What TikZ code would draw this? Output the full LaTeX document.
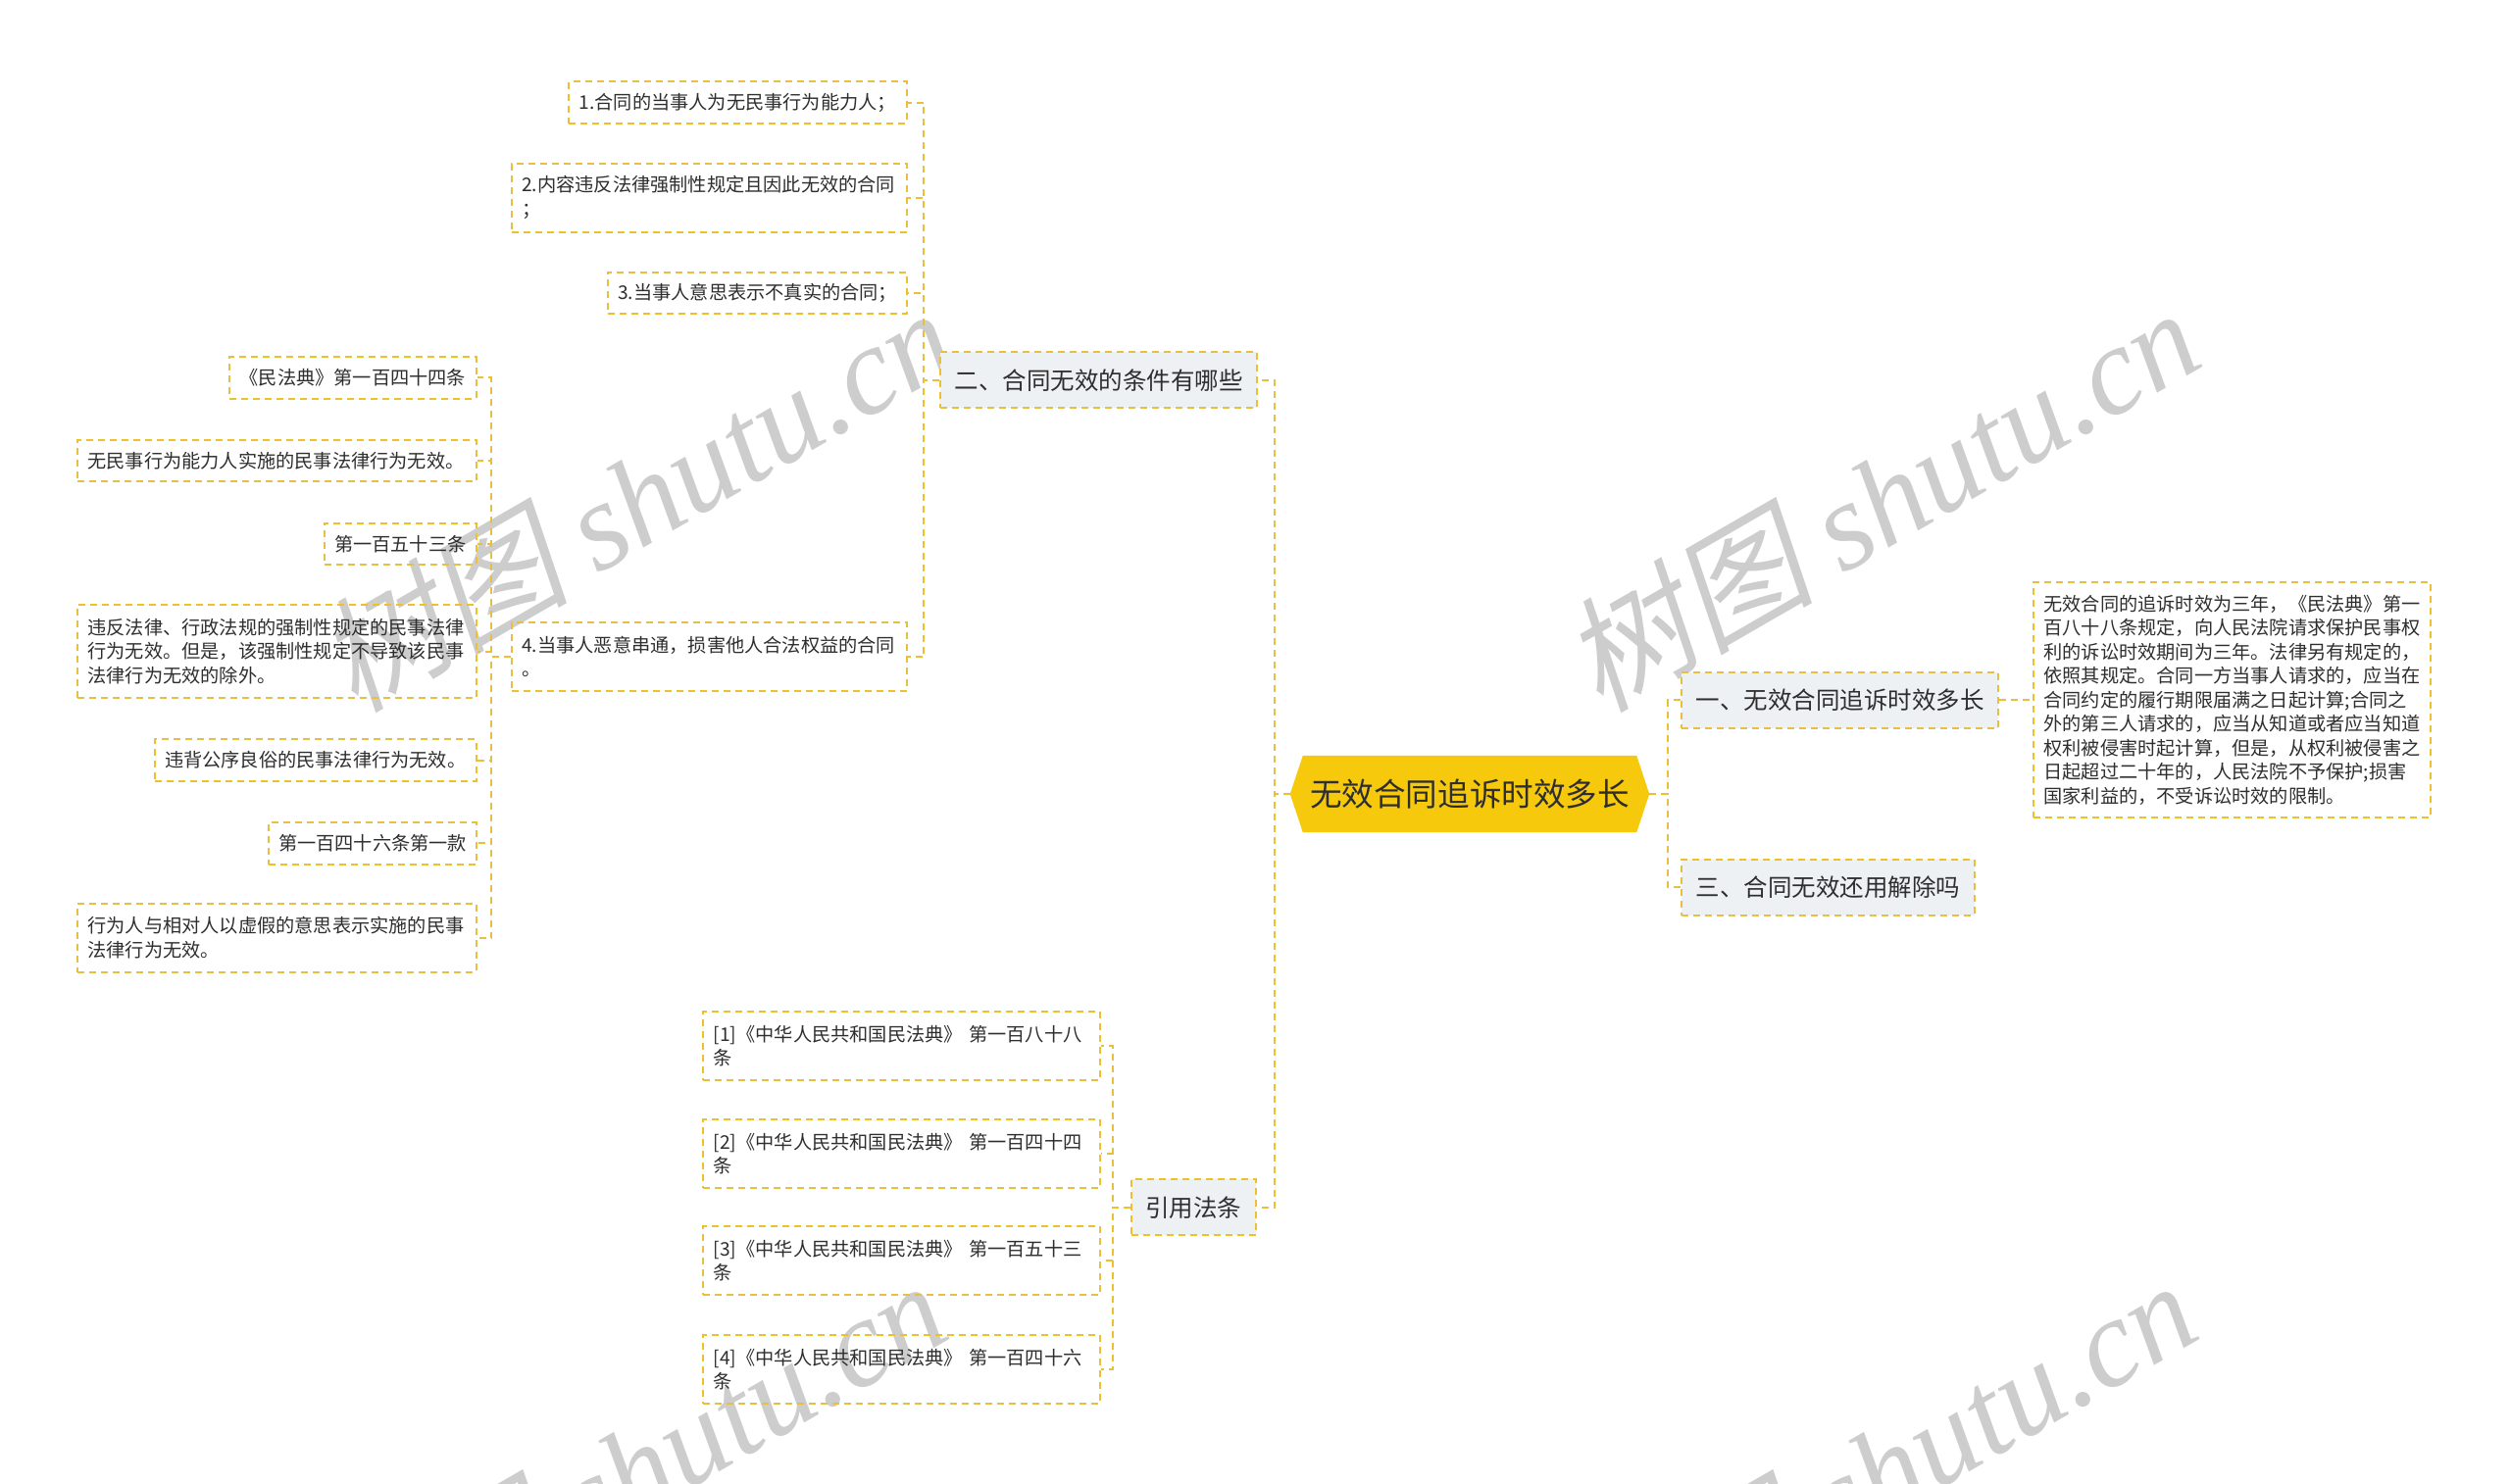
\documentclass[tikz,border=0pt]{standalone}
\usepackage{fontspec}
\setmainfont{Noto Sans CJK SC}
\newfontfamily\wmlat{Liberation Serif}
\newfontfamily\wmcjk[FakeSlant=0.2]{Noto Sans CJK SC}
\usetikzlibrary{backgrounds}
\definecolor{gold}{HTML}{EBC036}
\definecolor{rootfill}{HTML}{F6C90C}
\definecolor{topfill}{HTML}{EEF1F4}
\definecolor{txt}{HTML}{2E2E2E}
\definecolor{wmgray}{HTML}{CDCDCD}
\tikzset{
  conn/.style={draw=gold, line width=2pt, dash pattern=on 7pt off 5pt},
  leaf/.style={draw=gold, line width=2pt, dash pattern=on 7pt off 5pt, text=txt,
    font=\fontsize{19.2}{24.5}\selectfont, inner xsep=10.5pt, inner ysep=6pt,
    text width=#1, align=left, anchor=east, minimum height=42.5pt},
  topic/.style={draw=gold, line width=2pt, dash pattern=on 7pt off 5pt, fill=topfill,
    text=txt, font=\fontsize{24.5}{28}\selectfont, inner xsep=14.5pt, inner ysep=0pt,
    minimum height=57pt},
  rootnode/.style={text=txt, font=\fontsize{32.6}{36}\selectfont, inner sep=0pt,
    minimum width=366pt, minimum height=78pt},
  wmark/.style={text=wmgray, font=\fontsize{128}{132}\selectfont, rotate=30, inner sep=0pt}
}
\begin{document}
\begin{tikzpicture}[x=1pt,y=1pt]
\useasboundingbox (0,0) rectangle (2560,-1513);
\begin{scope}[on background layer]
  \fill[white] (0,0) rectangle (2560,-1513);
\end{scope}

% watermarks
\begin{scope}
  \clip (0,0) rectangle (2560,-1513);
  \node[wmark] (wm1) at (648,-508) {{\wmcjk 树图} {\wmlat\itshape shutu.cn}};
  \node[wmark] (wm2) at (1918,-508) {{\wmcjk 树图} {\wmlat\itshape shutu.cn}};
  \node[wmark] (wm3) at (640,-1500) {{\wmcjk 树图} {\wmlat\itshape shutu.cn}};
  \node[wmark] (wm4) at (1915,-1500) {{\wmcjk 树图} {\wmlat\itshape shutu.cn}};
\end{scope}

% root
\node[rootnode] (root) at (1499,-810) {无效合同追诉时效多长};
\begin{scope}[on background layer]
  \fill[rootfill] (root.west) -- ([xshift=13pt]root.north west) -- ([xshift=-13pt]root.north east)
    -- (root.east) -- ([xshift=-13pt]root.south east) -- ([xshift=13pt]root.south west) -- cycle;
\end{scope}

% right side
\node[topic, anchor=west] (A) at (1714,-714.3) {一、无效合同追诉时效多长};
\node[topic, anchor=west] (B) at (1714,-905.3) {三、合同无效还用解除吗};
\node[leaf=384pt, anchor=west, minimum height=240pt] (long) at (2073,-714.3) {无效合同的追诉时效为三年，《民法典》第一\\百八十八条规定，向人民法院请求保护民事权\\利的诉讼时效期间为三年。法律另有规定的，\\依照其规定。合同一方当事人请求的，应当在\\合同约定的履行期限届满之日起计算;合同之\\外的第三人请求的，应当从知道或者应当知道\\权利被侵害时起计算，但是，从权利被侵害之\\日起超过二十年的，人民法院不予保护;损害\\国家利益的，不受诉讼时效的限制。};

% left side topics
\node[topic, anchor=east] (C) at (1283.4,-387.8) {二、合同无效的条件有哪些};
\node[topic, anchor=east] (D) at (1281.7,-1231.9) {引用法条};

% C children
\node[leaf=323.5pt] (c1) at (925.7,-104.5) {1.合同的当事人为无民事行为能力人；};
\node[leaf=382pt, minimum height=70pt] (c2) at (925.7,-201.6) {2.内容违反法律强制性规定且因此无效的合同\\；};
\node[leaf=284pt] (c3) at (925.7,-298.8) {3.当事人意思表示不真实的合同；};
\node[leaf=382pt, minimum height=70pt] (c4) at (925.7,-670) {4.当事人恶意串通，损害他人合法权益的合同\\。};

% c4 children
\node[leaf=230.4pt] (d1) at (486.5,-385.3) {《民法典》第一百四十四条};
\node[leaf=385.5pt] (d2) at (486.5,-470.2) {无民事行为能力人实施的民事法律行为无效。};
\node[leaf=134pt] (d3) at (486.5,-555) {第一百五十三条};
\node[leaf=385.5pt, minimum height=95pt] (d4) at (486.5,-664.5) {违反法律、行政法规的强制性规定的民事法律\\行为无效。但是，该强制性规定不导致该民事\\法律行为无效的除外。};
\node[leaf=307pt] (d5) at (486.5,-775.5) {违背公序良俗的民事法律行为无效。};
\node[leaf=191pt] (d6) at (486.5,-860.4) {第一百四十六条第一款};
\node[leaf=385.5pt, minimum height=70pt] (d7) at (486.5,-956.8) {行为人与相对人以虚假的意思表示实施的民事\\法律行为无效。};

% D children
\node[leaf=384pt, minimum height=70pt] (e1) at (1123.3,-1067) {[1]《中华人民共和国民法典》 第一百八十八\\条};
\node[leaf=384pt, minimum height=70pt] (e2) at (1123.3,-1177) {[2]《中华人民共和国民法典》 第一百四十四\\条};
\node[leaf=384pt, minimum height=70pt] (e3) at (1123.3,-1286) {[3]《中华人民共和国民法典》 第一百五十三\\条};
\node[leaf=384pt, minimum height=70pt] (e4) at (1123.3,-1397) {[4]《中华人民共和国民法典》 第一百四十六\\条};

% connectors
\draw[conn] (root.east) -- ++(19,0) |- (A.west);
\draw[conn] (root.east) -- ++(19,0) |- (B.west);
\draw[conn] (A.east) -- (long.west);
\draw[conn] (root.west) -- ++(-16.3,0) |- (C.east);
\draw[conn] (root.west) -- ++(-16.3,0) |- (D.east);
\foreach \n in {c1,c2,c3,c4}{
  \draw[conn] (C.west) -- ++(-16.3,0) |- (\n.east);
}
\foreach \n in {d1,d2,d3,d4,d5,d6,d7}{
  \draw[conn] (c4.west) -- ++(-19.5,0) |- (\n.east);
}
\foreach \n in {e1,e2,e3,e4}{
  \draw[conn] (D.west) -- ++(-18,0) |- (\n.east);
}
\end{tikzpicture}
\end{document}
